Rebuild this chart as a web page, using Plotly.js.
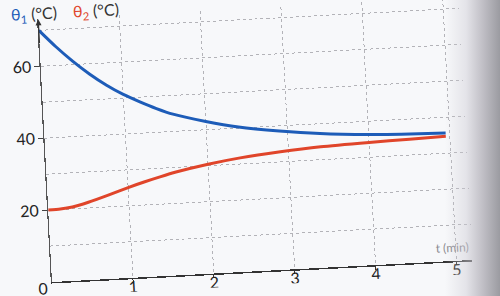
<!DOCTYPE html>
<html>
<head>
<meta charset="utf-8">
<script src="https://cdn.plot.ly/plotly-3.0.1.min.js"></script>
<style>
  html, body { margin: 0; padding: 0; width: 500px; height: 296px; overflow: hidden; background: #f7f8fa; }
  #wrap { position: absolute; left: 0; top: 0; width: 500px; height: 296px; transform: rotate(-3deg); transform-origin: 52px 282px; }
  #chart { width: 500px; height: 296px; }
  #shade { position: absolute; left: 0; top: 0; width: 500px; height: 296px; pointer-events: none;
    background: linear-gradient(to right, rgba(200,198,208,0) 0px, rgba(200,198,208,0) 445px, rgba(205,203,212,0.45) 466px, rgba(178,176,184,0.8) 483px, rgba(150,150,156,0.95) 500px); }
</style>
</head>
<body>
<div id="wrap"><div id="chart"></div></div>
<div id="shade"></div>
<script>
// time in minutes
const t1 = [0, 0.2, 0.4, 0.6, 0.8, 1.0, 1.2, 1.4, 1.6, 2.0, 2.4, 2.9, 3.4, 4.0, 4.4, 4.95];
const theta1 = [70, 65.2, 60.9, 57.1, 53.8, 51.0, 48.7, 46.6, 44.8, 42.3, 40.3, 38.6, 37.3, 36.3, 35.9, 35.6];
const t2 = [0, 0.15, 0.3, 0.5, 0.75, 1.0, 1.2, 1.4, 1.6, 2.0, 2.4, 2.9, 3.4, 4.0, 4.5, 4.95];
const theta2 = [20, 20.1, 20.5, 21.6, 23.3, 25.1, 26.4, 27.6, 28.7, 30.4, 31.7, 32.8, 33.6, 34.1, 34.4, 34.7];
const xTicks = [1, 2, 3, 4, 5];
const yTicks = [20, 40, 60];
const yMinorTicks = [10, 30, 50, 70];

const blue = '#1d5cb8';
const red = '#e0452a';
const gridCol = '#b3b3b8';
const fontFam = 'Lato, "Noto Sans", sans-serif';

const traces = [
  { x: t1, y: theta1, mode: 'lines', line: { color: blue, width: 3, shape: 'spline', smoothing: 0.6 }, hoverinfo: 'skip' },
  { x: t2, y: theta2, mode: 'lines', line: { color: red, width: 3, shape: 'spline', smoothing: 0.6 }, hoverinfo: 'skip' }
];

const layout = {
  width: 500, height: 296,
  margin: { l: 52, r: 27, t: 19, b: 14 },
  paper_bgcolor: 'rgba(0,0,0,0)',
  plot_bgcolor: 'rgba(0,0,0,0)',
  showlegend: false,
  font: { family: fontFam, color: '#222', size: 16 },
  xaxis: {
    range: [0, 5.198], tickvals: xTicks, ticks: 'outside', ticklen: 3, tickcolor: '#333',
    ticklabelstandoff: -9,
    showline: true, linecolor: '#333', linewidth: 1.5, zeroline: false,
    showgrid: true, gridcolor: gridCol, griddash: 'dot', gridwidth: 1,
    tickfont: { size: 16, color: '#222', family: fontFam }, fixedrange: true
  },
  yaxis: {
    range: [0, 73.06], tickvals: yTicks, ticks: 'outside', ticklen: 5, tickcolor: '#444',
    showline: true, linecolor: '#555', linewidth: 1.2, zeroline: false,
    showgrid: true, gridcolor: gridCol, griddash: 'dot', gridwidth: 1,
    minor: { tickvals: yMinorTicks, showgrid: true, gridcolor: gridCol, griddash: 'dot', gridwidth: 1, ticks: '' },
    tickfont: { size: 16, color: '#222', family: fontFam }, fixedrange: true
  },
  annotations: [
    { xref: 'paper', yref: 'paper', x: 0, y: 1, xanchor: 'left', yanchor: 'middle', xshift: -29, yshift: 6,
      showarrow: false, text: '<span style="color:' + blue + '">θ<sub>1</sub></span> (°C)', font: { size: 16, color: '#333', family: fontFam } },
    { xref: 'paper', yref: 'paper', x: 0, y: 1, xanchor: 'left', yanchor: 'middle', xshift: 33, yshift: 6,
      showarrow: false, text: '<span style="color:' + red + '">θ<sub>2</sub></span> (°C)', font: { size: 16, color: '#333', family: fontFam } },
    { xref: 'x', yref: 'y', x: 0, y: 0, xanchor: 'center', yanchor: 'middle', xshift: -10, yshift: -5,
      showarrow: false, text: '0', font: { size: 16, color: '#222', family: fontFam } },
    { xref: 'x', yref: 'y', x: 0, y: 73.06, axref: 'x', ayref: 'y', ax: 0, ay: 66, text: '',
      showarrow: true, arrowhead: 2, arrowsize: 1, arrowwidth: 1.2, arrowcolor: '#333' },
    { xref: 'x', yref: 'y', x: 4.96, y: 3.7, xanchor: 'center', yanchor: 'middle',
      showarrow: false, text: 't (min)', font: { size: 12, color: '#8a8a90', family: fontFam } }
  ]
};

Plotly.newPlot('chart', traces, layout, { displayModeBar: false, staticPlot: true });
</script>
</body>
</html>
